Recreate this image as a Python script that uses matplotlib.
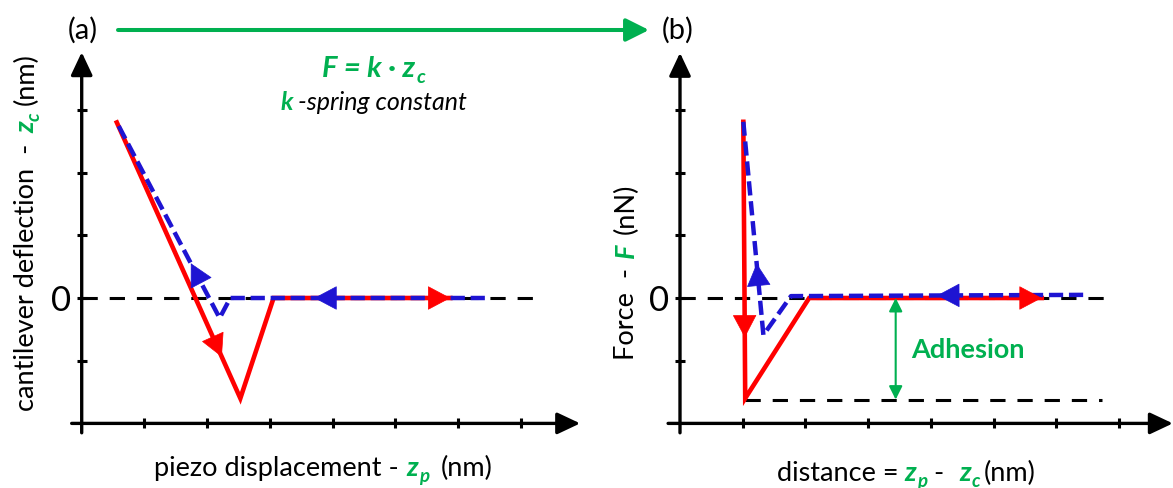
import matplotlib
matplotlib.use("Agg")
import matplotlib.pyplot as plt
import numpy as np
from matplotlib.transforms import IdentityTransform

plt.rcParams['font.family'] = ['Lato', 'DejaVu Sans']

# ---- values, in tick units (zero line = 0) ----
# (a) cantilever deflection vs piezo displacement
a_extend_x = [6.43, 2.37, 2.20, 0.56]
a_extend_y = [0.00, 0.00, -0.32, 2.80]
a_retract_x = [0.56, 2.53, 3.06, 5.88]
a_retract_y = [2.80, -1.60, 0.00, 0.00]
a_zero_x = [0.0, 7.36]

# (b) force vs distance
b_extend_x = [6.43, 1.77, 1.33, 1.01]
b_extend_y = [0.05, 0.03, -0.59, 2.81]
b_retract_x = [1.01, 1.04, 2.06, 5.77]
b_retract_y = [2.81, -1.60, 0.00, 0.00]
b_zero_x = [0.0, 6.92]
b_adhesion_x = [1.04, 6.73]
b_adhesion_y = -1.62
b_adhesion_arrow_x = 3.44

# direction arrows: (segment index, fraction along segment)
a_retract_arrows = [(0, 0.85), (2, 1.0)]
a_extend_arrows = [(0, 0.67), (2, 0.28)]
b_retract_arrows = [(0, 0.78), (2, 1.0)]
b_extend_arrows = [(0, 0.50), (2, 0.335)]

x_ticks = [1, 2, 3, 4, 5, 6, 7]
y_ticks = [-1, 0, 1, 2, 3]
y_ticklabels = ['', '0', '', '', '']

RED = '#FF0000'
BLUE = '#1E14D2'
GREEN = '#00B050'

W, H = 1173, 488
UNIT = 62.7
fig = plt.figure(figsize=(W / 100, H / 100), dpi=100)
R = fig.canvas.get_renderer()


def place(x0, y0, xlim, ylim):
    left = x0 + xlim[0] * UNIT
    right = x0 + xlim[1] * UNIT
    top = y0 - ylim[1] * UNIT
    bottom = y0 - ylim[0] * UNIT
    ax = fig.add_axes([left / W, 1 - bottom / H, (right - left) / W, (bottom - top) / H])
    ax.set_xlim(*xlim)
    ax.set_ylim(*ylim)
    for s in ax.spines.values():
        s.set_visible(False)
    ax.spines['left'].set_position(('data', 0))
    ax.spines['bottom'].set_position(('data', -2))
    ax.set_xticks(x_ticks)
    ax.set_xticklabels([])
    ax.set_yticks(y_ticks)
    ax.set_yticklabels(y_ticklabels)
    ax.tick_params(direction='inout', length=7.5, width=2.2, color='k',
                   labelsize=25, pad=4)
    ax.patch.set_visible(False)
    return ax


def axis_arrows(ax, xr, yr):
    st = '-|>,head_length=0.7,head_width=0.33'
    ax.annotate('', xy=(xr[1], -2), xytext=(xr[0], -2),
                arrowprops=dict(arrowstyle=st, mutation_scale=20, lw=2.4, color='k',
                                shrinkA=0, shrinkB=0), annotation_clip=False)
    ax.annotate('', xy=(0, yr[1]), xytext=(0, yr[0]),
                arrowprops=dict(arrowstyle=st, mutation_scale=20, lw=2.4, color='k',
                                shrinkA=0, shrinkB=0), annotation_clip=False)


def seg_arrow(ax, xs, ys, seg, t, color):
    p0 = np.array([xs[seg], ys[seg]])
    p1 = np.array([xs[seg + 1], ys[seg + 1]])
    tip = p0 + t * (p1 - p0)
    d = ax.transData.transform(p1) - ax.transData.transform(p0)
    d = d / np.hypot(*d)
    ax.annotate('', xy=tip, xytext=(-22 * d[0], -22 * d[1]), textcoords='offset pixels',
                arrowprops=dict(arrowstyle='-|>,head_length=0.85,head_width=0.45',
                                mutation_scale=18, color=color, lw=0.5,
                                shrinkA=0, shrinkB=0),
                zorder=6, annotation_clip=False)


def curves(ax, ex, ey, rx, ry, zx, e_arr, r_arr):
    ax.plot(zx, [0, 0], color='k', lw=2.2, ls=(0, (5, 3.9)), zorder=2)
    ax.plot(rx, ry, color=RED, lw=3.3, solid_joinstyle='miter', zorder=3, clip_on=False)
    ax.plot(ex, ey, color=BLUE, lw=3.2, ls=(0, (3.2, 1.3)), zorder=4, clip_on=False)
    for s, t in r_arr:
        seg_arrow(ax, rx, ry, s, t, RED)
    for s, t in e_arr:
        seg_arrow(ax, ex, ey, s, t, BLUE)


def rich(x, y, parts, rot=0):
    # x, y: pixels from top-left; baseline anchor, centred along the text
    arts = []
    pos = 0
    for s, c, w, st, sz, sh, gap in parts:
        t = fig.text(0, 0, s, color=c, fontweight=w, fontstyle=st, fontsize=sz,
                     rotation=rot, rotation_mode='anchor', ha='left', va='baseline',
                     transform=IdentityTransform())
        bb = t.get_window_extent(R)
        pos += gap
        arts.append((t, pos, sh))
        pos += bb.height if rot else bb.width
    start = -pos / 2
    Y = H - y
    for t, p, sh in arts:
        if rot:
            t.set_position((x - sh, Y + start + p))
        else:
            t.set_position((x + start + p, Y + sh))


# ---- panel (a) ----
axA = place(81.7, 298, (-0.3, 8.0), (-2.3, 4.0))
axis_arrows(axA, (-0.16, 7.95), (-2.15, 3.92))
curves(axA, a_extend_x, a_extend_y, a_retract_x, a_retract_y, a_zero_x,
       a_extend_arrows, a_retract_arrows)

# ---- panel (b) ----
axB = place(680, 298, (-0.3, 7.88), (-2.3, 4.0))
axis_arrows(axB, (-0.19, 7.86), (-2.15, 3.91))
curves(axB, b_extend_x, b_extend_y, b_retract_x, b_retract_y, b_zero_x,
       b_extend_arrows, b_retract_arrows)
axB.plot(b_adhesion_x, [b_adhesion_y] * 2, color='k', lw=2.2, ls=(0, (5, 3.9)), zorder=2)
axB.annotate('', xy=(b_adhesion_arrow_x, b_adhesion_y), xytext=(b_adhesion_arrow_x, 0),
             arrowprops=dict(arrowstyle='<|-|>,head_length=0.8,head_width=0.4',
                             mutation_scale=10, lw=1.5, color=GREEN,
                             shrinkA=0, shrinkB=0))
axB.text(4.59, -0.83, 'Adhesion', ha='center', va='center', color=GREEN,
         fontweight='bold', fontsize=19.5)

# ---- top annotations ----
fig.text(83 / W, 1 - 30 / H, '(a)', ha='center', va='center', fontsize=21)
fig.text(678 / W, 1 - 30 / H, '(b)', ha='center', va='center', fontsize=21)
axA.annotate('', xy=(649, H - 30), xytext=(118, H - 30), xycoords='figure pixels',
             textcoords='figure pixels',
             arrowprops=dict(arrowstyle='-|>,head_length=0.7,head_width=0.35',
                             mutation_scale=20, lw=2.9, color=GREEN,
                             shrinkA=0, shrinkB=0), annotation_clip=False)

n, b, it = 'normal', 'bold', 'italic'
rich(374, 77, [("F = k · z", GREEN, b, it, 21, 0, 0),
               ("c", GREEN, b, it, 14, -6, 1)])
rich(374, 110, [("k", GREEN, b, it, 18, 0, 0),
                ("-spring constant", 'k', n, it, 18, 0, 5)])

rich(323, 476, [("piezo displacement -", 'k', n, n, 19.5, 0, 0),
                ("z", GREEN, b, it, 19.5, 0, 8),
                ("p", GREEN, b, it, 13.5, -6, 1),
                ("(nm)", 'k', n, n, 19.5, 0, 11)])
rich(906, 481, [("distance =", 'k', n, n, 19.5, 0, 0),
                ("z", GREEN, b, it, 19.5, 0, 6),
                ("p", GREEN, b, it, 13.5, -6, 1),
                ("-", 'k', n, n, 19.5, 0, 6),
                ("z", GREEN, b, it, 19.5, 0, 16),
                ("c", GREEN, b, it, 13.5, -6, 1),
                ("(nm)", 'k', n, n, 19.5, 0, 3)])
rich(34, 232, [("cantilever deflection  -", 'k', n, n, 19.5, 0, 0),
               ("z", GREEN, b, it, 19.5, 0, 10),
               ("c", GREEN, b, it, 13.5, -6, 1),
               ("(nm)", 'k', n, n, 19.5, 0, 7)], rot=90)
rich(634, 272, [("Force  -", 'k', n, n, 19.5, 0, 0),
                ("F", GREEN, b, it, 19.5, 0, 10),
                ("(nN)", 'k', n, n, 19.5, 0, 9)], rot=90)

fig.savefig('out.png', dpi=100)
